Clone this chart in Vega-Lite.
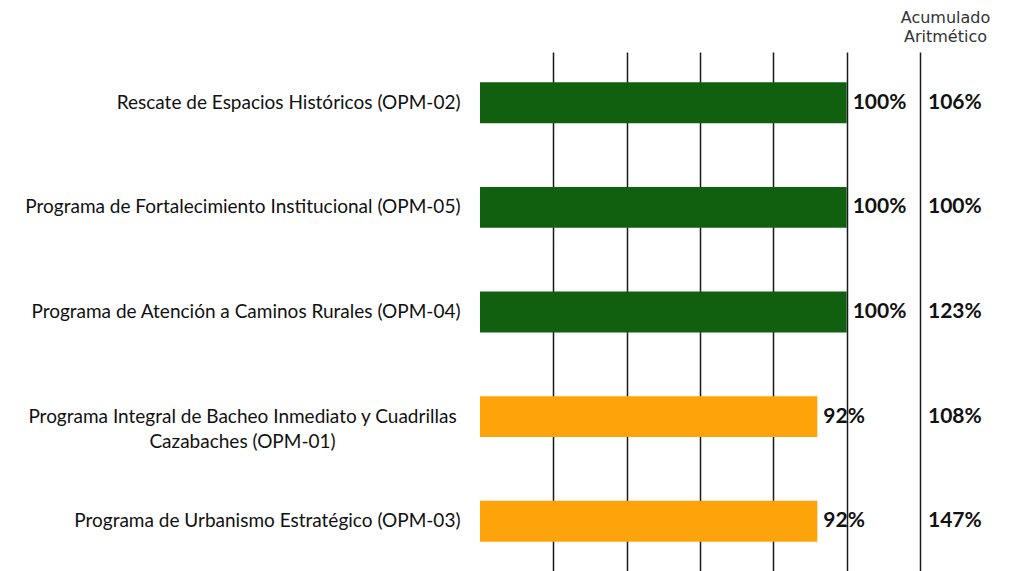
{
  "$schema": "https://vega.github.io/schema/vega-lite/v6.json",
  "width": 528,
  "height": 520,
  "autosize": {"type": "none"},
  "padding": {"left": 480, "top": 52, "right": 0, "bottom": 0},
  "background": "white",
  "config": {"view": {"stroke": null}},
  "data": {
    "values": [
      {"programa": "Rescate de Espacios Históricos (OPM-02)", "avance": 1.00, "acumulado": 1.06},
      {"programa": "Programa de Fortalecimiento Institucional (OPM-05)", "avance": 1.00, "acumulado": 1.00},
      {"programa": "Programa de Atención a Caminos Rurales (OPM-04)", "avance": 1.00, "acumulado": 1.23},
      {"programa": "Programa Integral de Bacheo Inmediato y Cuadrillas|Cazabaches (OPM-01)", "avance": 0.92, "acumulado": 1.08},
      {"programa": "Programa de Urbanismo Estratégico (OPM-03)", "avance": 0.92, "acumulado": 1.47}
    ]
  },
  "encoding": {
    "y": {
      "field": "programa",
      "type": "nominal",
      "sort": null,
      "scale": {"paddingInner": 0.61, "paddingOuter": 0.29},
      "axis": {
        "title": null,
        "domain": false,
        "ticks": false,
        "grid": false,
        "labelPadding": {"condition": {"test": "indexof(datum.value, '|') >= 0", "value": 238}, "value": 20},
        "labelFont": "Lato",
        "labelFontSize": 19,
        "labelColor": "#111111",
        "labelLimit": 0,
        "labelLineHeight": 25,
        "labelExpr": "split(datum.value, '|')",
        "labelAlign": {"condition": {"test": "indexof(datum.value, '|') >= 0", "value": "center"}, "value": "right"}
      }
    }
  },
  "layer": [
    {
      "mark": {"type": "bar"},
      "encoding": {
        "x": {
          "field": "avance",
          "type": "quantitative",
          "scale": {"domain": [0, 1.44], "nice": false},
          "axis": {
            "orient": "top",
            "values": [0.2, 0.4, 0.6, 0.8, 1.0, 1.2],
            "grid": true,
            "gridColor": "#1a1a1a",
            "gridWidth": 1.5,
            "gridOpacity": 1,
            "labels": false,
            "ticks": false,
            "domain": false,
            "title": ["Acumulado", "Aritmético"],
            "titleFont": "DejaVu Sans",
            "titleFontSize": 16,
            "titleFontWeight": "normal",
            "titleColor": "#333333",
            "titleLineHeight": 19,
            "titleX": 465,
            "titleY": -35,
            "titleAlign": "center",
            "titleBaseline": "middle"
          }
        },
        "color": {
          "condition": {"test": "datum.avance >= 1", "value": "#11600f"},
          "value": "#fea40a"
        }
      }
    },
    {
      "mark": {"type": "text", "align": "left", "baseline": "middle", "dx": 6, "font": "Lato", "fontWeight": "bold", "fontSize": 21, "color": "#111111"},
      "encoding": {
        "x": {"field": "avance", "type": "quantitative"},
        "text": {"field": "avance", "type": "quantitative", "format": ".0%"}
      }
    },
    {
      "mark": {"type": "text", "align": "center", "baseline": "middle", "font": "Lato", "fontWeight": "bold", "fontSize": 21, "color": "#111111"},
      "encoding": {
        "x": {"datum": 1.295, "type": "quantitative"},
        "text": {"field": "acumulado", "type": "quantitative", "format": ".0%"}
      }
    }
  ]
}
